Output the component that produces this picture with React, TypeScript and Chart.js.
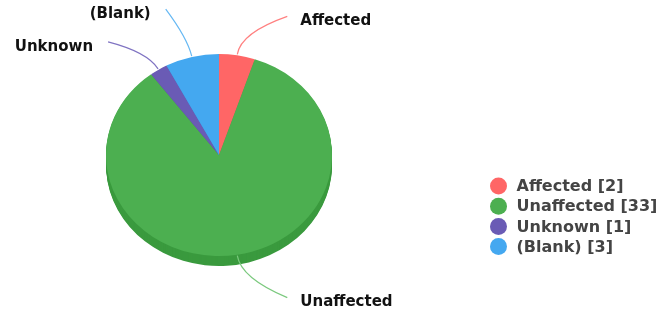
import React, { useEffect, useRef } from "react";
import { Chart, registerables } from "chart.js";

Chart.register(...registerables);

const categories = ["Affected", "Unaffected", "Unknown", "(Blank)"];
const counts = [2, 33, 1, 3];
const sliceColors = ["#FF6666", "#4CAF50", "#6A5BB5", "#44A8F0"];
const sideColors = ["#D95454", "#3A9A3E", "#564A9A", "#3590D0"];
const leaderColors = ["#FF8080", "#7BC97E", "#7F73C2", "#66B8F3"];

// leader end offsets (relative to the slice edge) for each label
const leaderOffsets: [number, number][] = [
  [50, -38],
  [50, 42],
  [-50, -27],
  [-26, -47],
];

const pie3d = {
  id: "pie3d",
  beforeDatasetsDraw(chart: any, _args: any, opts: any) {
    const ctx = chart.ctx;
    ctx.save();
    const meta = chart.getDatasetMeta(0);
    if (!meta.data.length) return;
    const a0: any = meta.data[0];
    const cx = a0.x;
    const cy = a0.y;
    const sy = opts.squash;
    const depth = opts.depth;
    ctx.translate(cx, cy);
    ctx.scale(1, sy);
    ctx.translate(-cx, -cy);
    for (let k = depth; k >= 1; k--) {
      meta.data.forEach((el: any, i: number) => {
        const oy = cy + k / sy;
        ctx.beginPath();
        ctx.moveTo(cx, oy);
        ctx.arc(cx, oy, el.outerRadius, el.startAngle, el.endAngle);
        ctx.closePath();
        ctx.fillStyle = sideColors[i];
        ctx.fill();
      });
    }
  },
  afterDatasetsDraw(chart: any, _args: any, opts: any) {
    const ctx = chart.ctx;
    ctx.restore();
    const meta = chart.getDatasetMeta(0);
    if (!meta.data.length) return;
    const sy = opts.squash;
    ctx.save();
    meta.data.forEach((el: any, i: number) => {
      const cx = el.x;
      const cy = el.y;
      const r = el.outerRadius;
      const mid = (el.startAngle + el.endAngle) / 2;
      const ux = Math.cos(mid);
      const uy = Math.sin(mid);
      const sx0 = cx + (r + 1) * ux;
      const sy0 = cy + (r + 1) * uy * sy;
      const [dx, dy] = leaderOffsets[i];
      const ex = sx0 + dx;
      const ey = sy0 + dy;
      const dist = Math.hypot(dx, dy);
      const cpx = sx0 + ux * dist * 0.35;
      const cpy = sy0 + uy * dist * 0.35;
      ctx.beginPath();
      ctx.moveTo(sx0, sy0);
      ctx.quadraticCurveTo(cpx, cpy, ex, ey);
      ctx.strokeStyle = leaderColors[i];
      ctx.lineWidth = 1.2;
      ctx.stroke();
      ctx.font = "bold 15px 'DejaVu Sans'";
      ctx.fillStyle = "#111111";
      ctx.textBaseline = "middle";
      const right = dx >= 0;
      ctx.textAlign = right ? "left" : "right";
      ctx.fillText(categories[i], ex + (right ? 13 : -15), ey + 5);
    });
    ctx.restore();
  },
  afterDraw(chart: any, _args: any, opts: any) {
    const ctx = chart.ctx;
    ctx.save();
    const lx = opts.legendX;
    const ly = opts.legendY;
    categories.forEach((c, i) => {
      const y = ly + i * 20.2;
      ctx.beginPath();
      ctx.arc(lx, y, 8.5, 0, Math.PI * 2);
      ctx.fillStyle = sliceColors[i];
      ctx.fill();
      ctx.font = "bold 16px 'DejaVu Sans'";
      ctx.fillStyle = "#444444";
      ctx.textBaseline = "middle";
      ctx.textAlign = "left";
      ctx.fillText(`${c} [${counts[i]}]`, lx + 18, y + 1);
    });
    ctx.restore();
  },
};

export default function App() {
  const ref = useRef<HTMLCanvasElement | null>(null);
  useEffect(() => {
    if (!ref.current) return;
    const chart = new Chart(ref.current, {
      type: "pie",
      data: {
        labels: categories,
        datasets: [
          {
            data: counts,
            backgroundColor: sliceColors,
            borderWidth: 0,
            clip: false,
          } as any,
        ],
      },
      options: {
        responsive: false,
        animation: false,
        layout: { padding: { left: 106, right: 331, top: 42, bottom: 42 } },
        plugins: {
          legend: { display: false },
          tooltip: { enabled: false },
          pie3d: { squash: 101 / 113, depth: 10, legendX: 498.5, legendY: 186 },
        } as any,
      },
      plugins: [pie3d],
    });
    return () => chart.destroy();
  }, []);
  return (
    <div style={{ position: "fixed", left: 0, top: 0, width: 663, height: 310, background: "#fff" }}>
      <canvas ref={ref} width={663} height={310} style={{ width: 663, height: 310, display: "block" }} />
    </div>
  );
}
